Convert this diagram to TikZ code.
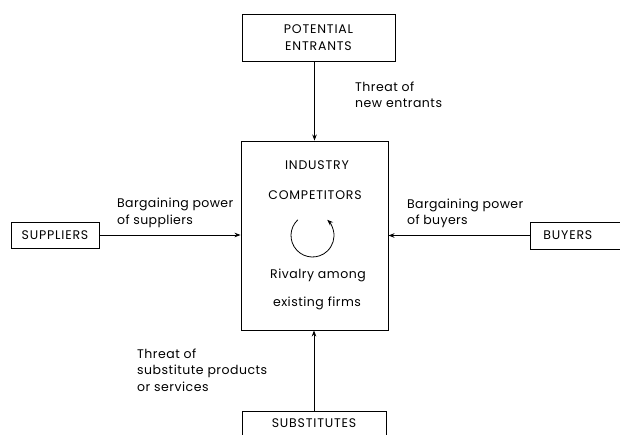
\documentclass[tikz,border=0pt]{standalone}
\usepackage{fontspec}
\setmainfont{Poppins}[LetterSpace=4]
\newfontfamily\capsfont{Poppins}[LetterSpace=6.5]
\usetikzlibrary{arrows.meta}
\begin{document}
\begin{tikzpicture}[x=1pt,y=1pt,
  every node/.style={font=\fontsize{12.5}{16.5}\selectfont},
  caps/.style={font=\capsfont\fontsize{12.5}{16.5}\selectfont},
  box/.style={draw, line width=0.9pt, inner sep=0pt, caps},
  lbl/.style={anchor=west, align=left, inner sep=0pt},
  conn/.style={line width=0.8pt, -{Stealth[length=6pt,width=4.5pt]}}
]
\clip (0,0) rectangle (620,434);
\fill[white] (0,0) rectangle (620,434);

\node[box, minimum width=153pt, minimum height=47pt, align=center] (entrants) at (318.5,396.5) {POTENTIAL\\ENTRANTS};
\node[box, minimum width=147pt, minimum height=189pt] (central) at (314.5,198.5) {};
\node[box, minimum width=88pt, minimum height=26pt] (suppliers) at (55,199) {SUPPLIERS};
\node[box, anchor=west, minimum height=27pt, inner xsep=13pt, text width=95pt, align=left] (buyers) at (530,198.5) {BUYERS};
\node[box, anchor=north, minimum width=144pt, minimum height=32pt, text depth=8pt] (subst) at (314,23) {SUBSTITUTES};

\node[caps] (ind) at (317,269) {INDUSTRY};
\node[caps] (comp) at (315,239) {COMPETITORS};
\node (riv) at (318,159) {Rivalry among};
\node (exist) at (317,131) {existing firms};

\node[lbl] (lentr) at (355,339) {Threat of\\new entrants};
\node[lbl, font=\addfontfeatures{LetterSpace=3}\fontsize{12.5}{16.5}\selectfont] (lsup) at (117,221) {Bargaining power\\of suppliers};
\node[lbl, font=\addfontfeatures{LetterSpace=3}\fontsize{12.5}{16.5}\selectfont] (lbuy) at (407,220.5) {Bargaining power\\of buyers};
\node[lbl] (lsub) at (137,64) {Threat of\\substitute products\\or services};

\draw[conn] (entrants.south -| central.north) -- (central.north);
\draw[conn] (subst.north) -- (subst.north |- central.south);
\draw[conn] (suppliers.east) -- (suppliers.east -| central.west);
\draw[conn] (buyers.west) -- (buyers.west -| central.east);

\coordinate (rc) at (312.5,198.5);
\draw[conn] (rc) ++(133:21.5) arc[start angle=133, end angle=407, radius=21.5];
\end{tikzpicture}
\end{document}
